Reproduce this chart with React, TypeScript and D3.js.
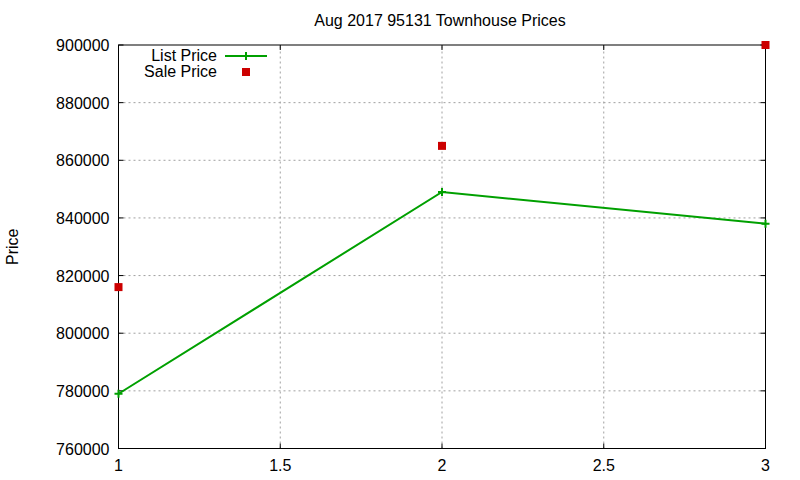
import * as d3 from "d3";

const xValues = [1, 2, 3];
const listPrice = [779000, 849000, 838000];
const salePrice = [816000, 865000, 900000];
const xTicks = [1, 1.5, 2, 2.5, 3];
const yTicks = [760000, 780000, 800000, 820000, 840000, 860000, 880000, 900000];

const width = 800;
const height = 480;
const margin = { top: 45, right: 34.5, bottom: 31.5, left: 118.5 };
const font = "'Liberation Sans', Arial, sans-serif";

const App = () => {
  const x = d3
    .scaleLinear()
    .domain([1, 3])
    .range([margin.left, width - margin.right]);
  const y = d3
    .scaleLinear()
    .domain([760000, 900000])
    .range([height - margin.bottom, margin.top]);

  const line = d3
    .line<number>()
    .x((_, i) => x(xValues[i]))
    .y((d) => y(d));

  const [x0, x1] = x.range();
  const [y0, y1] = y.range();
  const tick = 5;

  return (
    <svg
      width={width}
      height={height}
      style={{ position: "absolute", left: 0, top: 0, background: "#fff" }}
      fontFamily={font}
      fontSize={16}
    >
      <rect width={width} height={height} fill="#fff" />
      <text x={440} y={26} textAnchor="middle">
        Aug 2017 95131 Townhouse Prices
      </text>
      <text transform={`translate(18, ${(y0 + y1) / 2}) rotate(-90)`} textAnchor="middle">
        Price
      </text>

      {/* grid */}
      {yTicks.slice(1, -1).map((t) => (
        <line key={t} x1={x0} x2={x1} y1={y(t)} y2={y(t)} stroke="#a0a0a0" strokeDasharray="2,3" />
      ))}
      {xTicks.slice(1, -1).map((t) => (
        <line key={t} x1={x(t)} x2={x(t)} y1={y0} y2={y1} stroke="#a0a0a0" strokeDasharray="2,3" />
      ))}

      {/* ticks */}
      {yTicks.map((t) => (
        <g key={t}>
          <line x1={x0} x2={x0 + tick} y1={y(t)} y2={y(t)} stroke="#000" />
          <line x1={x1} x2={x1 - tick} y1={y(t)} y2={y(t)} stroke="#000" />
          <text x={x0 - 9} y={y(t) + 6} textAnchor="end">
            {t}
          </text>
        </g>
      ))}
      {xTicks.map((t) => (
        <g key={t}>
          <line x1={x(t)} x2={x(t)} y1={y0} y2={y0 - tick} stroke="#000" />
          <line x1={x(t)} x2={x(t)} y1={y1} y2={y1 + tick} stroke="#000" />
          <text x={x(t)} y={y0 + 22} textAnchor="middle">
            {t}
          </text>
        </g>
      ))}

      <rect x={x0} y={y1} width={x1 - x0} height={y0 - y1} fill="none" stroke="#000" />

      {/* list price */}
      <path d={line(listPrice) ?? undefined} fill="none" stroke="#00a000" strokeWidth={2} />
      {listPrice.map((d, i) => (
        <path
          key={i}
          d={`M${x(xValues[i]) - 4},${y(d)}h8M${x(xValues[i])},${y(d) - 4}v8`}
          stroke="#00a000"
          strokeWidth={2}
        />
      ))}

      {/* sale price */}
      {salePrice.map((d, i) => (
        <rect key={i} x={x(xValues[i]) - 4} y={y(d) - 4} width={8} height={8} fill="#cc0000" />
      ))}

      {/* legend */}
      <text x={217} y={61} textAnchor="end">
        List Price
      </text>
      <line x1={225} x2={267} y1={56} y2={56} stroke="#00a000" strokeWidth={2} />
      <path d="M246,52v8M242,56h8" stroke="#00a000" strokeWidth={2} />
      <text x={217} y={77} textAnchor="end">
        Sale Price
      </text>
      <rect x={242} y={68} width={8} height={8} fill="#cc0000" />
    </svg>
  );
};

export default App;
